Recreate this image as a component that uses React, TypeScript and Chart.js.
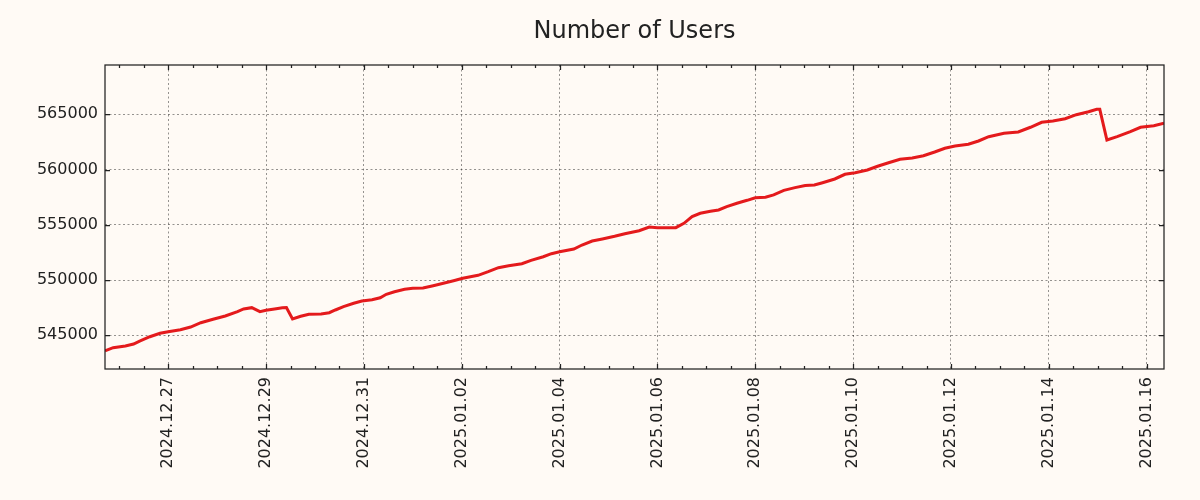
import React, { useEffect, useRef } from 'react';
import { Chart, registerables } from 'chart.js';

Chart.register(...registerables);

const chartTitle = 'Number of Users';

const times = [
  '2024-12-25 17:00', '2024-12-25 21:00', '2024-12-26 03:00', '2024-12-26 07:00', '2024-12-26 10:00',
  '2024-12-26 15:00', '2024-12-26 20:00', '2024-12-27 00:00', '2024-12-27 06:00', '2024-12-27 11:00',
  '2024-12-27 16:00', '2024-12-27 22:00', '2024-12-28 04:00', '2024-12-28 10:00', '2024-12-28 13:00',
  '2024-12-28 17:00', '2024-12-28 21:00', '2024-12-29 00:00', '2024-12-29 05:00', '2024-12-29 08:00',
  '2024-12-29 10:00', '2024-12-29 13:00', '2024-12-29 17:00', '2024-12-29 21:00', '2024-12-30 03:00',
  '2024-12-30 07:00', '2024-12-30 10:00', '2024-12-30 14:00', '2024-12-30 19:00', '2024-12-30 23:00',
  '2024-12-31 04:00', '2024-12-31 08:00', '2024-12-31 11:00', '2024-12-31 15:00', '2024-12-31 20:00',
  '2025-01-01 00:00', '2025-01-01 05:00', '2025-01-01 10:00', '2025-01-01 15:00', '2025-01-01 20:00',
  '2025-01-02 00:30', '2025-01-02 03:00', '2025-01-02 08:00', '2025-01-02 13:00', '2025-01-02 18:00',
  '2025-01-02 23:00', '2025-01-03 05:30', '2025-01-03 10:00', '2025-01-03 16:00', '2025-01-03 20:00',
  '2025-01-04 00:00', '2025-01-04 07:00', '2025-01-04 11:00', '2025-01-04 16:00', '2025-01-04 21:00',
  '2025-01-05 03:00', '2025-01-05 08:00', '2025-01-05 15:00', '2025-01-05 20:00', '2025-01-06 00:00',
  '2025-01-06 09:00', '2025-01-06 13:00', '2025-01-06 17:00', '2025-01-06 21:00', '2025-01-07 02:00',
  '2025-01-07 06:00', '2025-01-07 10:00', '2025-01-07 15:00', '2025-01-07 20:00', '2025-01-08 00:00',
  '2025-01-08 05:00', '2025-01-08 09:00', '2025-01-08 14:00', '2025-01-08 19:30', '2025-01-09 00:30',
  '2025-01-09 05:00', '2025-01-09 09:00', '2025-01-09 15:00', '2025-01-09 20:00', '2025-01-10 01:00',
  '2025-01-10 07:00', '2025-01-10 12:00', '2025-01-10 17:00', '2025-01-10 23:00', '2025-01-11 05:00',
  '2025-01-11 10:30', '2025-01-11 16:00', '2025-01-11 21:00', '2025-01-12 02:00', '2025-01-12 08:30',
  '2025-01-12 13:30', '2025-01-12 18:30', '2025-01-13 02:00', '2025-01-13 09:00', '2025-01-13 15:00',
  '2025-01-13 20:30', '2025-01-14 02:00', '2025-01-14 08:00', '2025-01-14 13:30', '2025-01-14 19:30',
  '2025-01-14 23:30', '2025-01-15 01:00', '2025-01-15 04:30', '2025-01-15 09:30', '2025-01-15 16:00',
  '2025-01-15 21:00', '2025-01-16 03:30', '2025-01-16 08:30',
];

const users = [
  543600, 543880, 544030, 544210, 544480,
  544870, 545180, 545325, 545510, 545750,
  546140, 546450, 546750, 547140, 547380,
  547500, 547140, 547260, 547410, 547500,
  547520, 546475, 546720, 546900, 546930,
  547045, 547290, 547590, 547895, 548100,
  548220, 548400, 548710, 548945, 549160,
  549250, 549280, 549490, 549705, 549940,
  550160, 550250, 550430, 550755, 551120,
  551300, 551480, 551785, 552110, 552385,
  552565, 552810, 553170, 553530, 553715,
  553960, 554195, 554465, 554800, 554740,
  554740, 555135, 555735, 556040, 556220,
  556340, 556640, 556945, 557215, 557450,
  557490, 557700, 558120, 558360, 558560,
  558600, 558810, 559145, 559570, 559715,
  559960, 560295, 560590, 560925, 561045,
  561250, 561590, 561925, 562130, 562285,
  562585, 562975, 563280, 563400, 563825,
  564275, 564395, 564600, 564965, 565235,
  565450, 565450, 562675, 562975, 563425,
  563825, 563970, 564185,
];

const majorTickLabels = [
  '2024.12.27', '2024.12.29', '2024.12.31', '2025.01.02', '2025.01.04', '2025.01.06',
  '2025.01.08', '2025.01.10', '2025.01.12', '2025.01.14', '2025.01.16',
];

const yTickValues = [545000, 550000, 555000, 560000, 565000];
const yMin = 541950;
const yMax = 569460;

const BG = '#fffaf5';
const TEXT = '#222222';
const GRID = 'rgba(0,0,0,0.42)';
const LINE = '#e41a1c';
const FONT = "'DejaVu Sans', sans-serif";
const HOUR = 3600000;

function toMs(s: string): number {
  const [d, t] = s.split(' ');
  const [Y, M, D] = d.split('-').map(Number);
  const [h, m] = t.split(':').map(Number);
  return Date.UTC(Y, M - 1, D, h, m);
}
function labelToMs(l: string): number {
  const [Y, M, D] = l.split('.').map(Number);
  return Date.UTC(Y, M - 1, D);
}

export default function App() {
  const ref = useRef<HTMLCanvasElement | null>(null);

  useEffect(() => {
    const canvas = ref.current;
    if (!canvas) return;
    const xs = times.map(toMs);
    const xMin = xs[0];
    const xMax = xs[xs.length - 1];
    const labelMap = new Map<number, string>();
    majorTickLabels.forEach((l) => labelMap.set(labelToMs(l), l));
    const majorVals = Array.from(labelMap.keys());
    // all tick positions every 12 hours, aligned to the major ticks
    let start = majorVals[0];
    while (start - 12 * HOUR >= xMin) start -= 12 * HOUR;
    const tickVals: number[] = [];
    for (let v = start; v <= xMax; v += 12 * HOUR) tickVals.push(v);

    const framePlugin = {
      id: 'frameAndTitle',
      afterDraw(chart: any) {
        const { ctx, chartArea: a } = chart;
        const xs2 = chart.scales.x;
        const ys2 = chart.scales.y;
        ctx.save();
        ctx.strokeStyle = TEXT;
        ctx.lineWidth = 1.25;
        ctx.setLineDash([]);
        ctx.beginPath();
        for (const v of tickVals) {
          const px = Math.round(xs2.getPixelForValue(v)) + 0.5;
          const len = labelMap.has(v) ? 5 : 3;
          ctx.moveTo(px, a.bottom);
          ctx.lineTo(px, a.bottom - len);
          ctx.moveTo(px, a.top);
          ctx.lineTo(px, a.top + len);
        }
        for (const v of yTickValues) {
          const py = Math.round(ys2.getPixelForValue(v)) + 0.5;
          ctx.moveTo(a.left, py);
          ctx.lineTo(a.left + 5, py);
          ctx.moveTo(a.right, py);
          ctx.lineTo(a.right - 5, py);
        }
        ctx.stroke();
        ctx.strokeRect(a.left, a.top, a.right - a.left, a.bottom - a.top);
        ctx.fillStyle = TEXT;
        ctx.font = `24px ${FONT}`;
        ctx.textAlign = 'center';
        ctx.textBaseline = 'alphabetic';
        ctx.fillText(chartTitle, (a.left + a.right) / 2, 38);
        ctx.restore();
      },
    };

    const bgPlugin = {
      id: 'bg',
      beforeDraw(chart: any) {
        const { ctx, width, height } = chart;
        ctx.save();
        ctx.fillStyle = BG;
        ctx.fillRect(0, 0, width, height);
        ctx.restore();
      },
    };

    const chart = new Chart(canvas, {
      type: 'line',
      data: {
        datasets: [
          {
            label: chartTitle,
            data: xs.map((x, i) => ({ x, y: users[i] })),
            borderColor: LINE,
            backgroundColor: LINE,
            borderWidth: 3,
            pointRadius: 0,
            tension: 0,
            fill: false,
          },
        ],
      },
      options: {
        animation: false,
        responsive: false,
        devicePixelRatio: 1,
        layout: { padding: { top: 65, right: 36, left: 0, bottom: 0 } },
        plugins: {
          legend: { display: false },
          title: { display: false },
          tooltip: { enabled: false },
        },
        scales: {
          x: {
            type: 'linear',
            min: xMin,
            max: xMax,
            afterBuildTicks: (s: any) => {
              s.ticks = tickVals.map((v) => ({ value: v }));
            },
            afterFit: (s: any) => {
              s.height = 131;
            },
            grid: {
              drawTicks: false,
              lineWidth: 1,
              color: (c: any) => (c.tick && labelMap.has(c.tick.value) ? GRID : 'rgba(0,0,0,0)'),
            },
            border: { display: false, dash: [2, 2.5] },
            ticks: {
              autoSkip: false,
              minRotation: 90,
              maxRotation: 90,
              padding: 8,
              color: TEXT,
              font: { family: FONT, size: 16 },
              callback: (v: any) => labelMap.get(Number(v)) ?? '',
            },
          },
          y: {
            type: 'linear',
            min: yMin,
            max: yMax,
            afterBuildTicks: (s: any) => {
              s.ticks = yTickValues.map((v) => ({ value: v }));
            },
            afterFit: (s: any) => {
              s.width = 105;
            },
            grid: { drawTicks: false, lineWidth: 1, color: GRID },
            border: { display: false, dash: [2, 2.5] },
            ticks: {
              padding: 7,
              color: TEXT,
              font: { family: FONT, size: 16 },
              callback: (v: any) => String(v),
            },
          },
        },
      },
      plugins: [bgPlugin, framePlugin],
    } as any);

    return () => chart.destroy();
  }, []);

  return (
    <div style={{ position: 'absolute', left: 0, top: 0, width: 1200, height: 500, background: BG }}>
      <canvas ref={ref} width={1200} height={500} style={{ display: 'block' }} />
    </div>
  );
}
